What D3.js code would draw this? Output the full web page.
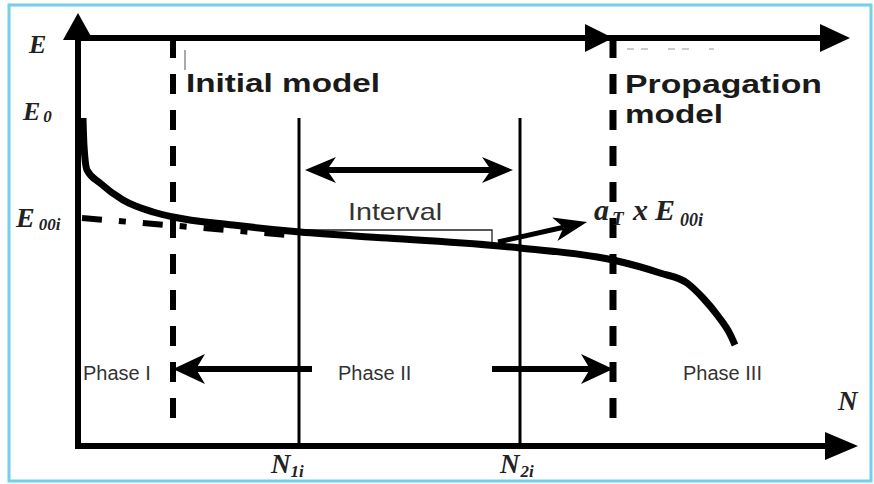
<!DOCTYPE html>
<html lang="en">
<head>
	<meta charset="UTF-8"/>
	<title>Fatigue curve: initial and propagation model</title>
	<script src="https://d3js.org/d3.v7.min.js"></script>
	<style>
		body { margin: 0; background: #fff; }
		svg { display: block; }
	</style>
</head>
<body>
<script>
    // canvas size
    var w = 874;
    var h = 484;

    // schematic units: N along the bottom axis, E up the left axis
    // stiffness curve E(N)
    var curveN = [5, 6, 9, 22, 45, 75, 95, 155, 222, 309, 442, 535, 582, 609, 625, 640, 652, 657];
    var curveE = [328, 300, 276, 263, 246, 234, 229, 221, 214, 208, 198, 186, 173, 163, 148, 130, 112, 101];

    // back-extrapolated line of phase II down to E00i
    var extraN = [4, 222];
    var extraE = [228, 210];

    // vertical markers
    var modelN = [95, 535];          // initial model | propagation model (dashed)
    var intervalN = [221, 442];      // N1i, N2i (solid)
    var intervalTop = 328;           // top of the N1i/N2i lines

    // arrows [N0, E0, N1, E1]
    var intervalArrow = [227, 276, 435, 276];
    var phaseArrows = [[234, 77, 95, 77], [414, 77, 535, 77]];
    var aTArrow = [420, 204, 509, 224];

    // slope bracket under "Interval"
    var bracketN = [222, 414, 414];
    var bracketE = [216, 216, 201];

    // axis extents
    var axisTopE = 408;   // the horizontal line along the top
    var axisEndN = 747;   // where the N axis line ends (arrow base)

    var phaseLabels = ["Phase I", "Phase II", "Phase III"];
    var phaseLabelN = [5, 260, 605];

    var x = d3.scaleLinear().domain([0, 780]).range([78, 858]);
    var y = d3.scaleLinear().domain([0, 433]).range([446, 13]);

    var svg = d3.select("body").append("svg")
        .attr("width", w)
        .attr("height", h);

    // light blue frame
    svg.append("rect")
        .attr("x", 9).attr("y", 5)
        .attr("width", 862).attr("height", 476)
        .attr("fill", "none")
        .attr("stroke", "#72d0ea")
        .attr("stroke-width", 3);

    // swept arrowhead (tip, barb, notch, barb)
    function sweptHead(x0, y0, x1, y1, len, half, notch) {
        var a = Math.atan2(y1 - y0, x1 - x0);
        var c = Math.cos(a), s = Math.sin(a);
        var bx = x1 - c * len, by = y1 - s * len;
        var nx = x1 - c * (len - notch), ny = y1 - s * (len - notch);
        return "M" + x1 + "," + y1 +
            "L" + (bx - s * half) + "," + (by + c * half) +
            "L" + nx + "," + ny +
            "L" + (bx + s * half) + "," + (by - c * half) + "Z";
    }

    function triHead(x1, y1, dir, len, half) {
        // dir: "right" or "up"
        if (dir === "up") {
            return "M" + x1 + "," + y1 + "L" + (x1 - half) + "," + (y1 + len) +
                "L" + (x1 + half) + "," + (y1 + len) + "Z";
        }
        return "M" + x1 + "," + y1 + "L" + (x1 - len) + "," + (y1 - half) +
            "L" + (x1 - len) + "," + (y1 + half) + "Z";
    }

    // axes
    svg.append("line")
        .attr("x1", x(0)).attr("y1", y(0) + 3)
        .attr("x2", x(0)).attr("y2", y(axisTopE))
        .attr("stroke", "#000").attr("stroke-width", 6);
    svg.append("path").attr("d", triHead(x(0), y(433), "up", 27, 15)).attr("fill", "#000");

    svg.append("line")
        .attr("x1", x(0) - 3).attr("y1", y(0))
        .attr("x2", x(axisEndN)).attr("y2", y(0))
        .attr("stroke", "#000").attr("stroke-width", 6);
    svg.append("path").attr("d", triHead(x(780), y(0), "right", 33, 14)).attr("fill", "#000");

    // top line with two arrowheads
    svg.append("line")
        .attr("x1", x(0)).attr("y1", y(axisTopE))
        .attr("x2", x(742)).attr("y2", y(axisTopE))
        .attr("stroke", "#000").attr("stroke-width", 6);
    svg.append("path").attr("d", triHead(x(modelN[1]), y(axisTopE), "right", 28, 14)).attr("fill", "#000");
    svg.append("path").attr("d", triHead(x(772), y(axisTopE), "right", 30, 14)).attr("fill", "#000");

    // little grey marks under the top line
    svg.append("line")
        .attr("x1", x(107)).attr("y1", y(396))
        .attr("x2", x(107)).attr("y2", y(376))
        .attr("stroke", "#555").attr("stroke-width", 1);
    svg.append("line")
        .attr("x1", x(549)).attr("y1", y(397))
        .attr("x2", x(636)).attr("y2", y(397))
        .attr("stroke", "#bbb").attr("stroke-width", 1.5)
        .attr("stroke-dasharray", "7,7,7,20");

    // dashed model boundaries
    svg.selectAll("line.model")
        .data(modelN)
        .enter().append("line")
        .attr("class", "model")
        .attr("x1", function(d) { return x(d); })
        .attr("x2", function(d) { return x(d); })
        .attr("y1", y(axisTopE))
        .attr("y2", y(16))
        .attr("stroke", "#000")
        .attr("stroke-width", function(d, i) { return i === 0 ? 6 : 7; })
        .attr("stroke-dasharray", "20,16");

    // N1i / N2i
    svg.selectAll("line.interval")
        .data(intervalN)
        .enter().append("line")
        .attr("class", "interval")
        .attr("x1", function(d) { return x(d); })
        .attr("x2", function(d) { return x(d); })
        .attr("y1", y(intervalTop))
        .attr("y2", y(0))
        .attr("stroke", "#000")
        .attr("stroke-width", 3);

    // extrapolation, dash-dot
    svg.append("path")
        .datum(d3.zip(extraN, extraE))
        .attr("d", d3.line().x(function(d) { return x(d[0]); }).y(function(d) { return y(d[1]); }))
        .attr("fill", "none")
        .attr("stroke", "#000")
        .attr("stroke-width", 6)
        .attr("stroke-dasharray", "20,17,7,17");

    // slope bracket
    svg.append("path")
        .datum(d3.zip(bracketN, bracketE))
        .attr("d", d3.line().x(function(d) { return x(d[0]); }).y(function(d) { return y(d[1]); }))
        .attr("fill", "none")
        .attr("stroke", "#222")
        .attr("stroke-width", 1.3);

    // the curve
    svg.append("path")
        .datum(d3.zip(curveN, curveE))
        .attr("d", d3.line()
            .x(function(d) { return x(d[0]); })
            .y(function(d) { return y(d[1]); })
            .curve(d3.curveMonotoneX))
        .attr("fill", "none")
        .attr("stroke", "#000")
        .attr("stroke-width", 7)
        .attr("stroke-linecap", "butt")
        .attr("stroke-linejoin", "round");

    // arrows with swept heads
    function drawArrow(a, width, len, half, notch, both) {
        var x0 = x(a[0]), y0 = y(a[1]), x1 = x(a[2]), y1 = y(a[3]);
        var ang = Math.atan2(y1 - y0, x1 - x0);
        var off = len - notch;
        svg.append("line")
            .attr("x1", both ? x0 + Math.cos(ang) * off : x0)
            .attr("y1", both ? y0 + Math.sin(ang) * off : y0)
            .attr("x2", x1 - Math.cos(ang) * off)
            .attr("y2", y1 - Math.sin(ang) * off)
            .attr("stroke", "#000").attr("stroke-width", width);
        svg.append("path").attr("d", sweptHead(x0, y0, x1, y1, len, half, notch)).attr("fill", "#000");
        if (both) {
            svg.append("path").attr("d", sweptHead(x1, y1, x0, y0, len, half, notch)).attr("fill", "#000");
        }
    }

    drawArrow(intervalArrow, 6, 31, 13, 9, true);
    phaseArrows.forEach(function(a) { drawArrow(a, 6, 32, 15, 9, false); });
    drawArrow(aTArrow, 5, 33, 12, 9, false);

    // text
    var sans = "'Liberation Sans', Arial, sans-serif";
    var serif = "'Liberation Serif', 'Times New Roman', serif";

    function boldTitle(txt, tx, ty, len) {
        svg.append("text")
            .attr("x", tx).attr("y", ty)
            .attr("font-family", sans)
            .attr("font-weight", "bold")
            .attr("font-size", 26)
            .attr("fill", "#1a1a1a")
            .attr("textLength", len)
            .attr("lengthAdjust", "spacingAndGlyphs")
            .text(txt);
    }
    boldTitle("Initial model", x(modelN[0]) + 13, 92, 194);
    boldTitle("Propagation", x(modelN[1]) + 12, 93, 197);
    boldTitle("model", x(modelN[1]) + 12, 123, 98);

    svg.append("text")
        .attr("x", 348).attr("y", 220)
        .attr("font-family", sans)
        .attr("font-size", 24)
        .attr("fill", "#333")
        .attr("textLength", 94)
        .attr("lengthAdjust", "spacingAndGlyphs")
        .text("Interval");

    svg.selectAll("text.phase")
        .data(phaseLabels)
        .enter().append("text")
        .attr("class", "phase")
        .attr("x", function(d, i) { return x(phaseLabelN[i]); })
        .attr("y", 380)
        .attr("font-family", sans)
        .attr("font-size", 20)
        .attr("fill", "#333")
        .text(function(d) { return d; });

    // math labels: main letter + subscript
    function mathLabel(tx, ty, main, sub, size, subSize, dx, dy) {
        var t = svg.append("text")
            .attr("x", tx).attr("y", ty)
            .attr("font-family", serif)
            .attr("font-weight", "bold")
            .attr("font-style", "italic")
            .attr("font-size", size)
            .attr("fill", "#222");
        t.append("tspan").text(main);
        if (sub) {
            t.append("tspan")
                .attr("dx", dx).attr("dy", dy)
                .attr("font-size", subSize)
                .text(sub);
        }
        return t;
    }

    mathLabel(29, 53, "E", null, 26);
    mathLabel(23, 120, "E", "0", 26, 17, 3, 2);
    mathLabel(16, 227, "E", "00i", 28, 17, 4, 3);
    mathLabel(838, 410, "N", null, 27);
    mathLabel(x(intervalN[0]) - 28, 473, "N", "1i", 27, 17, 0, 4);
    mathLabel(x(intervalN[1]) - 20, 473, "N", "2i", 27, 17, 1, 4);

    // a_T x E_00i, each piece placed on its own
    var aT = svg.append("text")
        .attr("font-family", serif)
        .attr("font-weight", "bold")
        .attr("font-style", "italic")
        .attr("font-size", 30)
        .attr("fill", "#222");
    aT.append("tspan").attr("x", 594).attr("y", 220).text("a");
    aT.append("tspan").attr("x", 612).attr("y", 225).attr("font-size", 19).text("T");
    aT.append("tspan").attr("x", 633).attr("y", 220).text("x");
    aT.append("tspan").attr("x", 655).attr("y", 220).text("E");
    aT.append("tspan").attr("x", 680).attr("y", 226).attr("font-size", 18).text("00i");
</script>
</body>
</html>
